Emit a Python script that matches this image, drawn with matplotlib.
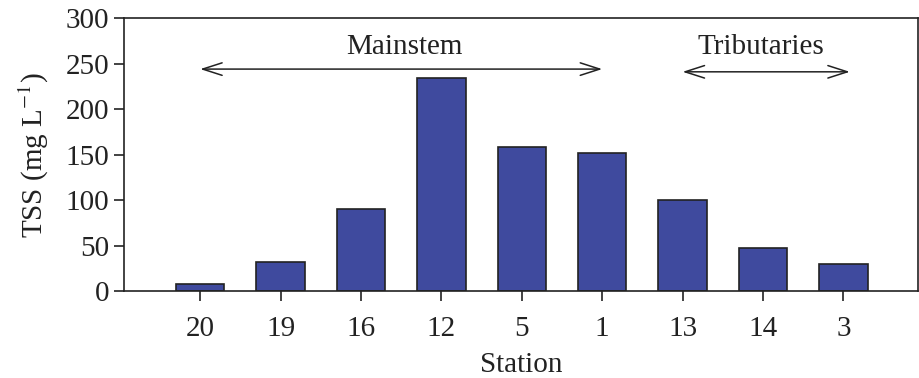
import matplotlib.pyplot as plt
import numpy as np

plt.rcParams['font.family'] = 'Liberation Serif'
plt.rcParams['mathtext.fontset'] = 'stix'

# Data
stations = ['20', '19', '16', '12', '5', '1', '13', '14', '3']
tss = [8, 32, 90, 234, 158, 152, 100, 47, 30]

x = np.arange(len(stations))

fig = plt.figure(figsize=(9.2, 3.78), dpi=100)
ax = fig.add_axes([0.135, 0.230, 0.863, 0.722])

ax.bar(x, tss, width=0.6, color='#3f4a9e', edgecolor='#222222', linewidth=1.2)

ax.set_xlim(-0.945, 8.93)
ax.set_ylim(0, 300)
ax.set_yticks(np.arange(0, 301, 50))
ax.set_xticks(x)
ax.set_xticklabels(stations)
ax.tick_params(axis='both', direction='out', length=7, width=1.2, labelsize=21, colors='#222222')
ax.tick_params(axis='x', pad=11)
ax.tick_params(axis='y', pad=4)
for s in ax.spines.values():
    s.set_linewidth(1.2)
    s.set_color('#222222')

ax.set_ylabel('TSS (mg L$^{-1}$)', fontsize=21, color='#222222', labelpad=10)
ax.set_xlabel('Station', fontsize=21, color='#222222', labelpad=7)

# Arrows with group labels
arrow = dict(arrowstyle='<->,head_length=1.4,head_width=0.45', color='#222222', lw=1.1,
             shrinkA=0, shrinkB=0)
ax.annotate('', xy=(0, 244), xytext=(5, 244), arrowprops=arrow)
ax.annotate('', xy=(6, 241), xytext=(8.08, 241), arrowprops=arrow)
ax.text(2.54, 268, 'Mainstem', ha='center', va='center', fontsize=21, color='#222222')
ax.text(6.97, 268, 'Tributaries', ha='center', va='center', fontsize=21, color='#222222')

plt.savefig('out.png', dpi=100)
